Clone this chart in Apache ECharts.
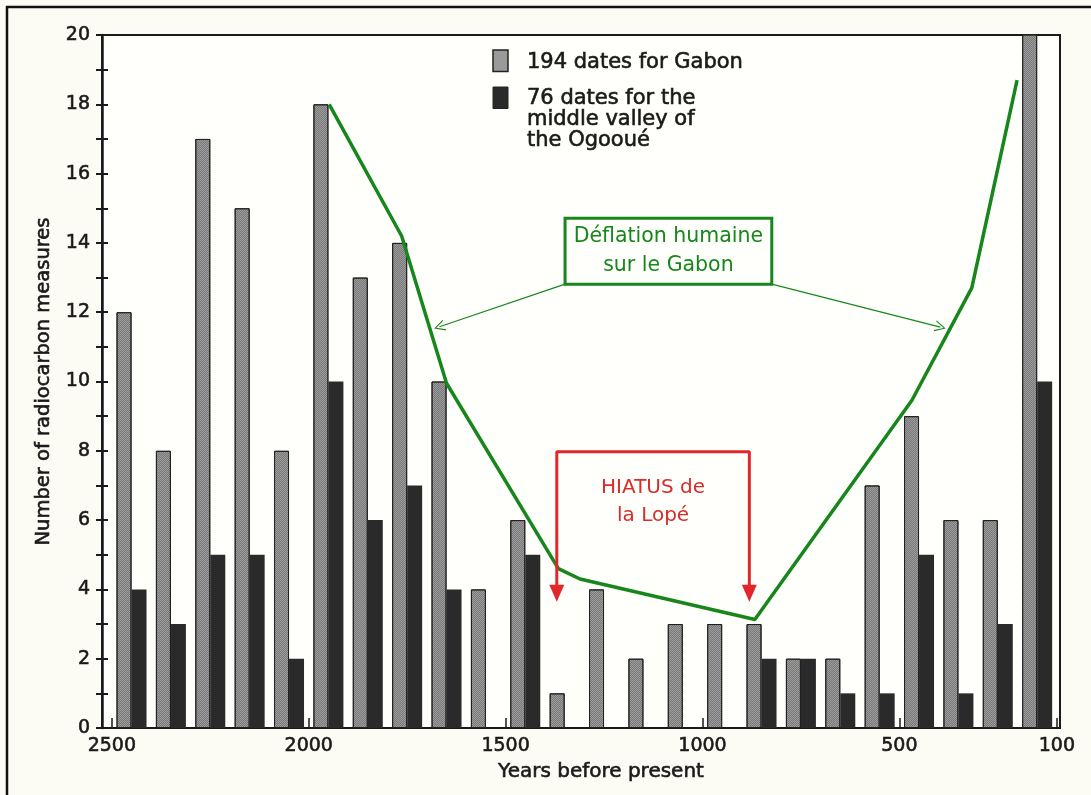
<!DOCTYPE html>
<html>
<head>
<meta charset="utf-8">
<title>Radiocarbon dates for Gabon</title>
<script src="https://cdn.jsdelivr.net/npm/echarts@6/dist/echarts.min.js"></script>
<style>
  html, body { margin: 0; padding: 0; background: #fdfcf4; }
  #chart { width: 1091px; height: 795px; }
</style>
</head>
<body>
<div id="chart"></div>
<script>
// century bins, years before present (centre of each bin)
var binCenters = [2450, 2350, 2250, 2150, 2050, 1950, 1850, 1750, 1650, 1550, 1450, 1350,
                  1250, 1150, 1050, 950, 850, 750, 650, 550, 450, 350, 250, 150]
var gabonCounts = [12, 8, 17, 15, 8, 18, 13, 14, 10, 4, 6, 1, 4, 2, 3, 3, 3, 2, 2, 7, 9, 6, 6, 21]
var ogooueCounts = [4, 3, 5, 5, 2, 10, 6, 7, 4, 0, 5, 0, 0, 0, 0, 0, 2, 2, 1, 1, 5, 1, 3, 10]
var xTicks = [2500, 2000, 1500, 1000, 500, 100]

// hand drawn green curve (year, count)
var deflationYears = [1948, 1764, 1650, 1366, 1311, 867, 468, 316, 201]
var deflationLevel = [18, 14.2, 9.95, 4.6, 4.3, 3.13, 9.46, 12.7, 18.7]

// red bracket for the hiatus
var hiatusYears = [1370, 1370, 881, 881]
var hiatusLevel = [3.9, 7.97, 7.97, 3.9]
var hiatusTipYears = [1370, 881]
var hiatusTipLevel = [3.64, 3.64]

var GREEN = '#17871d'
var RED = '#e3262a'
var INK = '#1a1a1a'
var FONT = 'DejaVu Sans'

function zip(a, b) {
  return a.map(function (v, i) { return [v, b[i]] })
}

// open chevron, pointing up (markLine turns it along the line)
var chevron = 'path://M0,18 L10,0 L20,18 L18.2,19 L10,3.8 L1.8,19 Z'

// the scanned labels are a bit heavier than a regular face
var heavy = { textBorderColor: INK, textBorderWidth: 0.6 }

var chart = echarts.init(document.getElementById('chart'))

var option = {
  animation: false,
  backgroundColor: '#fdfcf4',
  textStyle: { fontFamily: FONT, color: INK },
  grid: {
    left: 102, right: 31, top: 35, bottom: 67,
    show: true,
    backgroundColor: '#fffffb',
    borderColor: INK,
    borderWidth: 2,
    outerBoundsMode: 'none'
  },
  xAxis: {
    type: 'value',
    inverse: true,
    min: 92,
    max: 2525,
    name: 'Years before present',
    nameLocation: 'middle',
    nameGap: 33,
    nameTextStyle: Object.assign({ fontFamily: FONT, fontSize: 20, color: INK, padding: [0, 0, 0, 40] }, heavy),
    axisLine: { lineStyle: { color: INK, width: 2 } },
    axisTick: { inside: true, length: 10, customValues: xTicks, lineStyle: { color: INK, width: 1.5 } },
    axisLabel: Object.assign({
      customValues: xTicks, margin: 9, fontFamily: FONT, fontSize: 19, color: INK,
      formatter: function (v) { return String(v) }
    }, heavy),
    splitLine: { show: false }
  },
  yAxis: [{
    type: 'value',
    min: 0,
    max: 20,
    interval: 1,
    name: 'Number of radiocarbon measures',
    nameLocation: 'middle',
    nameGap: 40,
    nameTextStyle: Object.assign({ fontFamily: FONT, fontSize: 19.5, color: INK }, heavy),
    axisLine: { show: true, lineStyle: { color: INK, width: 2.5 } },
    axisTick: { show: true, length: 6, lineStyle: { color: INK, width: 2 } },
    axisLabel: Object.assign({
      margin: 12, fontFamily: FONT, fontSize: 19, color: INK,
      formatter: function (v) { return v % 2 === 0 ? String(v) : '' }
    }, heavy),
    splitLine: { show: false }
  }, {
    // second copy only for the inner half of the crossing ticks
    type: 'value',
    position: 'left',
    min: 0,
    max: 20,
    interval: 1,
    axisLine: { show: false },
    axisTick: { show: true, inside: true, length: 6, lineStyle: { color: INK, width: 2 } },
    axisLabel: { show: false },
    splitLine: { show: false }
  }],
  graphic: [
    { type: 'line', shape: { x1: 6, y1: 7, x2: 1091, y2: 7 }, style: { stroke: '#111', lineWidth: 2.5 } },
    { type: 'line', shape: { x1: 7, y1: 6, x2: 7, y2: 795 }, style: { stroke: '#111', lineWidth: 2.5 } },
    { type: 'rect', shape: { x: 493, y: 50, width: 15, height: 21.5 }, style: { fill: '#9a9a9a', stroke: '#222', lineWidth: 1.5 } },
    { type: 'rect', shape: { x: 493, y: 87, width: 15, height: 21.5 }, style: { fill: '#2a2a2a', stroke: '#222', lineWidth: 1 } },
    {
      type: 'text', x: 527, y: 62.5,
      style: {
        text: '194 dates for Gabon', font: '21px "DejaVu Sans"', fill: INK,
        stroke: INK, lineWidth: 0.6, verticalAlign: 'middle'
      }
    },
    {
      type: 'text', x: 527, y: 120,
      style: {
        text: '76 dates for the\nmiddle valley of\nthe Ogooué', font: '21px "DejaVu Sans"',
        lineHeight: 21, fill: INK, stroke: INK, lineWidth: 0.6, verticalAlign: 'middle'
      }
    }
  ],
  series: [{
    name: '194 dates for Gabon',
    type: 'bar',
    data: zip(binCenters, gabonCounts),
    barWidth: 15,
    barGap: '0%',
    clip: true,
    itemStyle: {
      color: '#9c9c9c',
      borderColor: '#222',
      borderWidth: 1,
      decal: {
        symbol: 'rect',
        symbolSize: 1,
        dashArrayX: [[1, 1], [0, 1, 1, 0]],
        dashArrayY: [1, 0],
        color: 'rgba(40,40,40,0.3)'
      }
    }
  }, {
    name: '76 dates for the middle valley of the Ogooué',
    type: 'bar',
    data: zip(binCenters, ogooueCounts),
    barWidth: 15,
    barGap: '0%',
    itemStyle: { color: '#2a2a2a' }
  }, {
    name: 'deflation',
    type: 'line',
    data: zip(deflationYears, deflationLevel),
    symbol: 'none',
    z: 5,
    lineStyle: { color: GREEN, width: 3.5 },
    markArea: {
      silent: true,
      itemStyle: { color: 'rgba(0,0,0,0)', borderColor: GREEN, borderWidth: 3 },
      label: {
        show: true, position: 'inside', fontFamily: FONT, fontSize: 20.5,
        lineHeight: 29, color: GREEN, align: 'center'
      },
      data: [[{ name: 'Déflation humaine\nsur le Gabon', coord: [1349, 14.71] }, { coord: [824, 12.81] }]]
    },
    markLine: {
      silent: true,
      symbol: ['none', chevron],
      symbolSize: [11, 11],
      label: { show: false },
      lineStyle: { color: GREEN, width: 1.2, type: 'solid' },
      data: [
        [{ coord: [1349, 12.81] }, { coord: [1668, 11.58] }],
        [{ coord: [824, 12.81] }, { coord: [396, 11.57] }]
      ]
    }
  }, {
    name: 'hiatus',
    type: 'line',
    data: zip(hiatusYears, hiatusLevel),
    symbol: 'none',
    z: 6,
    lineStyle: { color: RED, width: 3 },
    markArea: {
      silent: true,
      itemStyle: { color: 'rgba(0,0,0,0)' },
      label: {
        show: true, position: 'inside', fontFamily: FONT, fontSize: 20,
        lineHeight: 28, color: '#d92b2b', align: 'center'
      },
      data: [[{ name: 'HIATUS de\nla Lopé', coord: [1370, 7.97] }, { coord: [881, 5.07] }]]
    }
  }, {
    name: 'hiatus tips',
    type: 'scatter',
    data: zip(hiatusTipYears, hiatusTipLevel),
    symbol: 'triangle',
    symbolSize: [15, 17],
    symbolRotate: 180,
    symbolOffset: [0, -8.5],
    z: 6,
    itemStyle: { color: RED, opacity: 1 }
  }]
}

chart.setOption(option)
</script>
</body>
</html>
